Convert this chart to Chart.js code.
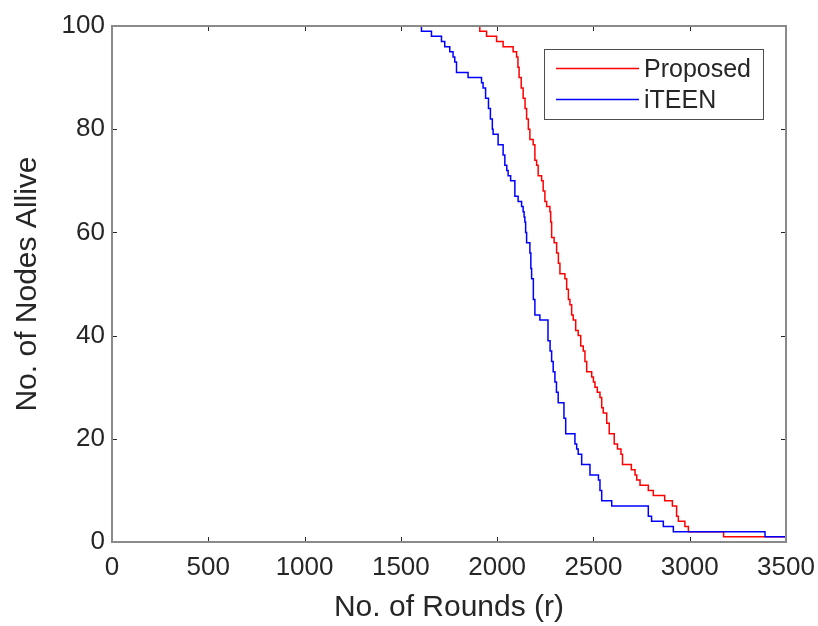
<!DOCTYPE html>
<html>
<head>
<meta charset="utf-8">
<script src="https://cdn.jsdelivr.net/npm/chart.js@4.4.1/dist/chart.umd.min.js"></script>
<style>
  html, body { margin: 0; padding: 0; background: #fff; }
  #wrap { width: 818px; height: 626px; }
</style>
</head>
<body>
<div id="wrap"><canvas id="nodesChart" width="818" height="626"></canvas></div>
<script>
// Số vòng (round) tại đó số node còn sống giảm xuống giá trị tương ứng
const proposedRounds = [0, 1910, 1945, 1997, 2031, 2083, 2101, 2108, 2114, 2125, 2135, 2145, 2153, 2162, 2170, 2187, 2196, 2205, 2213, 2231, 2239, 2248, 2257, 2274, 2278, 2283, 2296, 2309, 2318, 2326, 2352, 2361, 2370, 2378, 2387, 2395, 2408, 2421, 2434, 2447, 2456, 2465, 2491, 2500, 2508, 2520, 2534, 2543, 2551, 2569, 2582, 2608, 2625, 2643, 2651, 2697, 2716, 2725, 2742, 2785, 2811, 2870, 2910, 2932, 2941, 2975, 2993, 3176, 3500];
const proposedAlive  = [100, 99, 98, 97, 96, 95, 94, 92, 90, 88, 86, 84, 82, 80, 78, 77, 74, 73, 71, 70, 68, 66, 65, 64, 62, 59, 58, 56, 54, 52, 51, 49, 47, 46, 44, 43, 41, 40, 38, 37, 35, 33, 32, 31, 30, 29, 28, 26, 25, 23, 21, 19, 18, 17, 15, 14, 13, 12, 11, 10, 9, 8, 7, 5, 4, 3, 2, 1, 1];

const iteenRounds = [0, 1607, 1659, 1711, 1728, 1754, 1771, 1780, 1789, 1849, 1919, 1927, 1940, 1955, 1965, 1975, 1979, 2005, 2031, 2040, 2050, 2057, 2070, 2092, 2109, 2127, 2135, 2140, 2144, 2148, 2153, 2170, 2175, 2179, 2188, 2196, 2222, 2264, 2275, 2283, 2291, 2300, 2308, 2317, 2347, 2356, 2404, 2413, 2421, 2439, 2482, 2526, 2534, 2543, 2595, 2785, 2802, 2863, 2915, 3391, 3500];
const iteenAlive  = [100, 99, 98, 97, 96, 95, 94, 93, 91, 90, 89, 88, 86, 84, 82, 80, 79, 77, 75, 73, 72, 71, 70, 67, 66, 65, 64, 63, 62, 60, 58, 56, 53, 51, 47, 44, 43, 39, 37, 35, 33, 31, 29, 27, 24, 21, 19, 18, 17, 15, 13, 12, 10, 8, 7, 5, 4, 3, 2, 1, 1];

const xTicks = [0, 500, 1000, 1500, 2000, 2500, 3000, 3500];
const yTicks = [0, 20, 40, 60, 80, 100];

const seriesNames = ['Proposed', 'iTEEN'];
const seriesColors = ['#ff0000', '#0000ff'];

const FONT = '"Liberation Sans", Arial, Helvetica, sans-serif';
const TEXT_COLOR = '#262626';

const toPoints = (xs, ys) => xs.map((x, i) => ({ x, y: ys[i] }));

// Khung trục kiểu MATLAB: viền xám + vạch chia hướng vào trong
const framePlugin = {
    id: 'frame',
    afterDatasetsDraw(chart) {
        const { ctx, chartArea: a, scales: { x, y } } = chart;
        ctx.save();
        ctx.strokeStyle = '#262626';
        ctx.lineWidth = 1;
        ctx.beginPath();
        xTicks.forEach(v => {
            const px = Math.round(x.getPixelForValue(v)) + 0.5;
            ctx.moveTo(px, a.bottom); ctx.lineTo(px, a.bottom - 5);
            ctx.moveTo(px, a.top); ctx.lineTo(px, a.top + 5);
        });
        yTicks.forEach(v => {
            const py = Math.round(y.getPixelForValue(v)) + 0.5;
            ctx.moveTo(a.left, py); ctx.lineTo(a.left + 5, py);
            ctx.moveTo(a.right, py); ctx.lineTo(a.right - 5, py);
        });
        ctx.stroke();
        ctx.strokeStyle = '#8a8a8a';
        ctx.lineWidth = 2;
        ctx.strokeRect(a.left, a.top, a.right - a.left, a.bottom - a.top);
        ctx.restore();
    }
};

// Chú thích có khung ở góc trên bên phải
const legendBoxPlugin = {
    id: 'legendBox',
    afterDraw(chart) {
        const { ctx } = chart;
        const box = { x: 544.5, y: 49.5, w: 219, h: 70 };
        ctx.save();
        ctx.fillStyle = '#fff';
        ctx.fillRect(box.x, box.y, box.w, box.h);
        ctx.strokeStyle = '#4d4d4d';
        ctx.lineWidth = 1;
        ctx.strokeRect(box.x, box.y, box.w, box.h);
        const rows = [68.5, 99.5];
        ctx.font = '25px ' + FONT;
        ctx.textBaseline = 'middle';
        ctx.textAlign = 'left';
        seriesNames.forEach((name, i) => {
            ctx.strokeStyle = seriesColors[i];
            ctx.lineWidth = 1.5;
            ctx.beginPath();
            ctx.moveTo(556, rows[i]);
            ctx.lineTo(639, rows[i]);
            ctx.stroke();
            ctx.fillStyle = TEXT_COLOR;
            ctx.fillText(name, 644, rows[i] + 1.5);
        });
        ctx.restore();
    }
};

new Chart(document.getElementById('nodesChart'), {
    type: 'line',
    data: {
        datasets: [
            {
                label: seriesNames[0],
                data: toPoints(proposedRounds, proposedAlive),
                borderColor: seriesColors[0],
                borderWidth: 1.5,
                stepped: 'before',
                pointRadius: 0,
                fill: false,
                order: 2
            },
            {
                label: seriesNames[1],
                data: toPoints(iteenRounds, iteenAlive),
                borderColor: seriesColors[1],
                borderWidth: 1.5,
                stepped: 'before',
                pointRadius: 0,
                fill: false,
                order: 1
            }
        ]
    },
    options: {
        responsive: false,
        animation: false,
        layout: { padding: { top: 26, right: 32, left: 0, bottom: 0 } },
        plugins: { legend: { display: false }, tooltip: { enabled: false } },
        scales: {
            x: {
                type: 'linear',
                min: 0, max: 3500,
                afterBuildTicks: s => { s.ticks = xTicks.map(v => ({ value: v })); },
                afterFit: s => { s.height = 84; s.paddingLeft = 0; s.paddingRight = 0; },
                grid: { display: false, drawTicks: false },
                border: { display: false },
                ticks: { color: TEXT_COLOR, font: { family: FONT, size: 26 }, padding: 10, maxRotation: 0, callback: v => String(v) },
                title: { display: true, text: 'No. of Rounds (r)', color: TEXT_COLOR, font: { family: FONT, size: 30 }, padding: { top: 0, bottom: 0 } }
            },
            y: {
                min: 0, max: 100,
                afterBuildTicks: s => { s.ticks = yTicks.map(v => ({ value: v })); },
                afterFit: s => { s.width = 112; s.paddingTop = 0; s.paddingBottom = 0; },
                grid: { display: false, drawTicks: false },
                border: { display: false },
                ticks: { color: TEXT_COLOR, font: { family: FONT, size: 26 }, padding: 7, callback: v => String(v) },
                title: { display: true, text: 'No. of Nodes Allive', color: TEXT_COLOR, font: { family: FONT, size: 30 }, padding: { top: 10, bottom: 0 } }
            }
        }
    },
    plugins: [framePlugin, legendBoxPlugin]
});
</script>
</body>
</html>
